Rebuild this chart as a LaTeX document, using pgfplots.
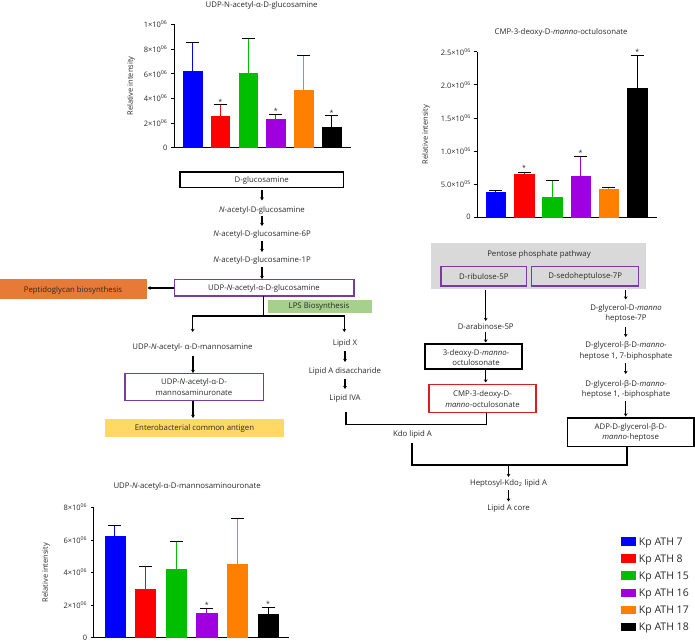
\documentclass[border=0pt]{standalone}
\usepackage{fontspec}
\setmainfont{Open Sans}
\usepackage{pgfplots}
\pgfplotsset{compat=1.18}
\usetikzlibrary{arrows.meta}

\definecolor{cblue}{RGB}{0,0,255}
\definecolor{cred}{RGB}{255,0,0}
\definecolor{cgreen}{RGB}{0,190,0}
\definecolor{cpurple}{RGB}{160,0,224}
\definecolor{corange}{RGB}{255,128,0}
\definecolor{boxpurple}{RGB}{120,60,160}
\definecolor{boxred}{RGB}{220,30,30}
\definecolor{pgorange}{RGB}{232,122,55}
\definecolor{lpsgreen}{RGB}{166,209,140}
\definecolor{ecayellow}{RGB}{255,216,102}
\definecolor{ppgrey}{RGB}{217,217,217}
\definecolor{txt}{RGB}{40,40,40}

\pgfplotsset{
  metabars/.style={
    scale only axis, anchor=south west, clip=false,
    axis lines=left, axis line style={-, line width=0.8pt},
    ybar, bar shift=0pt, ymin=0,
    xtick=\empty, tick align=outside, major tick length=3pt,
    ytick style={line width=0.8pt, black},
    yticklabel style={font=\fontsize{7.5}{8}\selectfont, text=txt},
    ylabel style={font=\fontsize{7.5}{9}\selectfont, text=txt, anchor=center},
    ylabel={Relative intensity},
    error bars/y dir=plus, error bars/y explicit,
    error bars/error bar style={line width=1pt},
    error bars/error mark options={rotate=90, mark size=6.5pt, line width=1pt},
  },
}
\tikzset{
  sig/.style={anchor=south, inner sep=0.5pt, font=\fontsize{7}{8}\selectfont, text=txt},
  ttl/.style={anchor=center, inner sep=0pt, font=\fontsize{7.8}{9}\selectfont, text=txt},
  t/.style={font=\fontsize{7.8}{10.5}\selectfont, text=txt, align=center, inner sep=0pt},
  arr/.style={-{Stealth[length=3.2pt,width=3.8pt]}, line width=1.2pt},
  conn/.style={line width=1.3pt},
  bbox/.style={draw=black, line width=1.6pt},
  pbox/.style={draw=boxpurple, line width=1.3pt},
  rbox/.style={draw=boxred, line width=1.3pt},
}

\begin{document}
\begin{tikzpicture}
\path[use as bounding box] (0,0) rectangle (695pt,642pt);

% UDP-N-acetyl-alpha-D-glucosamine
\begin{axis}[metabars, at={(174pt,494.3pt)}, width=177pt, height=123.4pt,
  xmin=0.335, xmax=6.70, ymax=10, bar width=18.5pt,
  ytick={0,2,4,6,8,10},
  yticklabels={0, 2×10\textsuperscript{06}, 4×10\textsuperscript{06}, 6×10\textsuperscript{06}, 8×10\textsuperscript{06}, 1×10\textsuperscript{06}},
  ylabel style={at={(axis description cs:-0.243,0.5)}}]
\addplot[fill=cblue, draw=cblue] coordinates {(1,6.19) +- (0,2.32)};
\addplot[fill=cred, draw=cred] coordinates {(2,2.59) +- (0,0.87)};
\addplot[fill=cgreen, draw=cgreen] coordinates {(3,6.05) +- (0,2.81)};
\addplot[fill=cpurple, draw=cpurple] coordinates {(4,2.27) +- (0,0.46)};
\addplot[fill=corange, draw=corange] coordinates {(5,4.65) +- (0,2.81)};
\addplot[fill=black, draw=black] coordinates {(6,1.65) +- (0,0.92)};
\node[sig] at (axis cs:2,3.46) {*};
\node[sig] at (axis cs:4,2.73) {*};
\node[sig] at (axis cs:6,2.57) {*};
\node[ttl] at (axis description cs:0.495,1.15) {UDP-N-acetyl-α-D-glucosamine};
\end{axis}

% CMP-3-deoxy-D-manno-octulosonate
\begin{axis}[metabars, at={(477.3pt,424.7pt)}, width=179.4pt, height=165.6pt,
  xmin=0.346, xmax=6.69, ymax=2.5, bar width=19.5pt,
  ytick={0,0.5,1,1.5,2,2.5},
  yticklabels={0, 5.0×10\textsuperscript{05}, 1.0×10\textsuperscript{06}, 1.5×10\textsuperscript{06}, 2.0×10\textsuperscript{06}, 2.5×10\textsuperscript{06}},
  ylabel style={at={(axis description cs:-0.286,0.5)}}]
\addplot[fill=cblue, draw=cblue] coordinates {(1,0.375) +- (0,0.025)};
\addplot[fill=cred, draw=cred] coordinates {(2,0.655) +- (0,0.02)};
\addplot[fill=cgreen, draw=cgreen] coordinates {(3,0.31) +- (0,0.25)};
\addplot[fill=cpurple, draw=cpurple] coordinates {(4,0.625) +- (0,0.30)};
\addplot[fill=corange, draw=corange] coordinates {(5,0.42) +- (0,0.03)};
\addplot[fill=black, draw=black] coordinates {(6,1.947) +- (0,0.50)};
\node[sig] at (axis cs:2,0.7) {*};
\node[sig] at (axis cs:4,0.925) {*};
\node[sig] at (axis cs:6,2.45) {*};
\node[ttl] at (axis description cs:0.467,1.117) {CMP-3-deoxy-D-\textit{manno}-octulosonate};
\end{axis}

% UDP-N-acetyl-alpha-D-mannosaminouronate
\begin{axis}[metabars, at={(93.75pt,4.5pt)}, width=195.25pt, height=130pt,
  xmin=0.309, xmax=6.686, ymax=8, bar width=20.3pt,
  ytick={0,2,4,6,8},
  yticklabels={0, 2×10\textsuperscript{06}, 4×10\textsuperscript{06}, 6×10\textsuperscript{06}, 8×10\textsuperscript{06}},
  ylabel style={at={(axis description cs:-0.245,0.5)}},
  legend image code/.code={\fill[#1] (0pt,-2.9pt) rectangle (14.3pt,4.8pt);},
  legend cell align=left,
  legend style={draw=none, fill=none, inner sep=0pt,
    at={(axis description cs:2.699,0.773)}, anchor=north west,
    font=\fontsize{10.5}{12}\selectfont, text=txt,
    nodes={inner sep=0pt, text height=8pt, text depth=2pt},
    row sep=7.1pt, column sep=3.3pt},
  legend entries={Kp ATH 7, Kp ATH 8, Kp ATH 15, Kp ATH 16, Kp ATH 17, Kp ATH 18}]
\addplot[fill=cblue, draw=cblue] coordinates {(1,6.26) +- (0,0.63)};
\addplot[fill=cred, draw=cred] coordinates {(2,2.95) +- (0,1.44)};
\addplot[fill=cgreen, draw=cgreen] coordinates {(3,4.18) +- (0,1.71)};
\addplot[fill=cpurple, draw=cpurple] coordinates {(4,1.48) +- (0,0.30)};
\addplot[fill=corange, draw=corange] coordinates {(5,4.51) +- (0,2.79)};
\addplot[fill=black, draw=black] coordinates {(6,1.42) +- (0,0.43)};
\node[sig] at (axis cs:4,1.78) {*};
\node[sig] at (axis cs:6,1.85) {*};
\node[ttl] at (axis description cs:0.478,1.158) {UDP-\textit{N}-acetyl-α-D-mannosaminouronate};
\end{axis}

% pathway diagram, pixel coordinates from the top left
\begin{scope}[x=1pt, y=-1pt, shift={(0pt,642pt)}]
  % glucosamine column
  \draw[bbox] (180,172.3) rectangle (343.3,187.7);
  \node[t] at (261.7,180) {D-glucosamine};
  \draw[arr] (262,190.5) -- (262,200.5);
  \node[t] at (262,210) {\textit{N}-acetyl-D-glucosamine};
  \draw[arr] (262,216) -- (262,226);
  \node[t] at (262,234) {\textit{N}-acetyl-D-glucosamine-6P};
  \draw[arr] (262,241) -- (262,252);
  \node[t] at (262,260) {\textit{N}-acetyl-D-glucosamine-1P};
  \draw[arr] (262,267) -- (262,279);
  \draw[pbox] (174.3,279.3) rectangle (354,296);
  \node[t] at (264,288) {UDP-\textit{N}-acetyl-α-D-glucosamine};
  \fill[pgorange] (0,279.3) rectangle (146.7,299.3);
  \node[t] at (73,290) {Peptidoglycan biosynthesis};
  \draw[arr] (174.3,288) -- (147.5,288);
  \fill[lpsgreen] (267.7,300) rectangle (372,312.7);
  \node[t] at (319,306.5) {LPS Biosynthesis};
  \draw[conn] (263.3,296) -- (263.3,316);
  \draw[conn, {Stealth[length=3.2pt,width=3.8pt]}-{Stealth[length=3.2pt,width=3.8pt]}]
    (192.7,332) -- (192.7,316) -- (344.3,316) -- (344.3,332);
  % ECA branch
  \node[t] at (192.5,347) {UDP-\textit{N}-acetyl- α-D-mannosamine};
  \draw[arr] (193,356) -- (193,373);
  \draw[pbox] (125,373.3) rectangle (263.3,400.7);
  \node[t] at (194,387) {UDP-\textit{N}-acetyl-α-D-\\mannosaminuronate};
  \draw[arr] (193,401) -- (193,418);
  \fill[ecayellow] (105,419) rectangle (284,436.7);
  \node[t] at (194.5,428) {Enterobacterial common antigen};
  % lipid A branch
  \node[t] at (345,343) {Lipid X};
  \draw[arr] (345,351) -- (345,362);
  \node[t] at (345,371) {Lipid A disaccharide};
  \draw[arr] (345,379) -- (345,389);
  \node[t] at (345,398) {Lipid IVA};
  % pentose phosphate pathway
  \fill[ppgrey] (431,243.3) rectangle (646,289.3);
  \node[t] at (539,254) {Pentose phosphate pathway};
  \draw[pbox] (441,266.7) rectangle (526.7,286);
  \node[t] at (483.8,276.3) {D-ribulose-5P};
  \draw[pbox] (531.7,266.7) rectangle (638.7,286);
  \node[t] at (585.2,276.3) {D-sedoheptulose-7P};
  % Kdo column
  \draw[arr] (485.7,290) -- (485.7,321);
  \node[t] at (485.7,327) {D-arabinose-5P};
  \draw[arr] (485.7,332) -- (485.7,342.5);
  \draw[bbox] (425,344.3) rectangle (521.7,369.3);
  \node[t] at (476,357.5) {3-deoxy-D-\textit{manno}-\\octulosonate};
  \draw[arr] (485.7,370) -- (485.7,382.5);
  \draw[rbox] (429,384.3) rectangle (536,412.7);
  \node[t] at (482.5,399) {CMP-3-deoxy-D-\\\textit{manno}-octulosonate};
  % heptose column
  \draw[arr] (625.7,290) -- (625.7,299.5);
  \node[t] at (626,313.5) {D-glycerol-D-\textit{manno}\\heptose-7P};
  \draw[arr] (625.7,327) -- (625.7,337);
  \node[t] at (626,351) {D-glycerol-β-D-\textit{manno}-\\heptose 1, 7-biphosphate};
  \draw[arr] (625.7,363) -- (625.7,374);
  \node[t] at (626,389.5) {D-glycerol-β-D-\textit{manno}-\\heptose 1, -biphosphate};
  \draw[arr] (625.7,401) -- (625.7,416.5);
  \draw[bbox] (567.3,418.3) rectangle (694,446.7);
  \node[t] at (630.7,432.5) {ADP-D-glycerol-β-D-\\\textit{manno}-heptose};
  % lipid A core assembly
  \draw[conn] (346,412) -- (346,424.5) -- (486.7,424.5) -- (486.7,412.7);
  \node[t] at (412.5,434) {Kdo lipid A};
  \draw[conn] (412,443) -- (412,465) -- (627,465) -- (627,446.7);
  \draw[arr] (508.5,465) -- (508.5,477);
  \node[t] at (508.5,483) {Heptosyl-Kdo\textsubscript{2} lipid A};
  \draw[arr] (508.5,490) -- (508.5,501.5);
  \node[t] at (508.5,508.5) {Lipid A core};
\end{scope}
\end{tikzpicture}
\end{document}
